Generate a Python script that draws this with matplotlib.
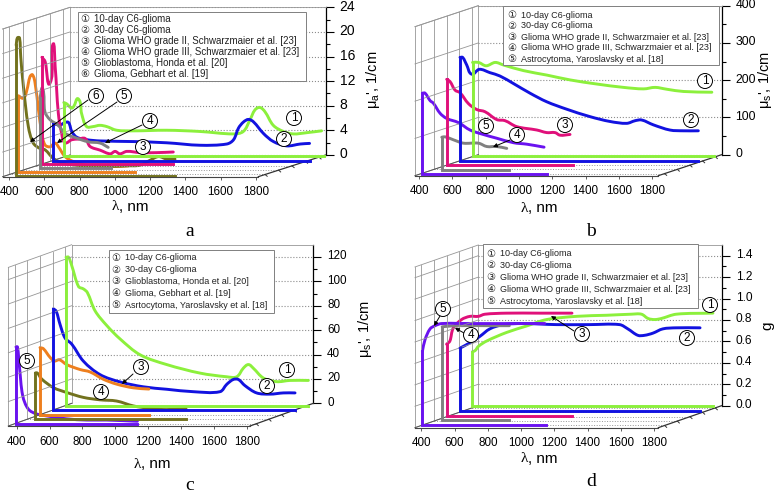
import matplotlib
matplotlib.use("Agg")
import matplotlib.pyplot as plt
import numpy as np
from matplotlib.patches import Circle, PathPatch, Rectangle
from matplotlib.path import Path
from matplotlib.transforms import Affine2D

plt.rcParams['font.family'] = ['Liberation Sans', 'DejaVu Sans']
plt.rcParams['mathtext.fontset'] = 'custom'
plt.rcParams['mathtext.rm'] = 'Liberation Sans'
plt.rcParams['mathtext.it'] = 'Liberation Sans'

W, H = 775, 492

GREEN = '#8cf03c'
BLUE = '#1212e0'
MAGENTA = '#e0107a'
GREY = '#808080'
ORANGE = '#ee7f1e'
OLIVE = '#72721e'
PURPLE = '#6a12f0'

X_TICKS = [400, 600, 800, 1000, 1200, 1400, 1600, 1800]

# panel a, absorption
A_GREEN_WL = [348, 364, 392, 405, 430, 449, 477, 515, 552, 591, 648, 742, 931, 1120, 1309, 1366, 1404, 1432, 1460, 1489, 1536, 1593, 1650, 1725, 1810]
A_GREEN = [8.7, 8.5, 7.8, 8.1, 9.3, 6.9, 4.8, 4.8, 5.0, 4.8, 4.2, 4.1, 4.2, 4.0, 3.6, 4.0, 5.9, 7.5, 7.9, 7.2, 5.0, 4.0, 3.6, 3.8, 4.1]
A_BLUE_WL = [369, 407, 435, 455, 474, 502, 559, 634, 823, 1012, 1201, 1352, 1391, 1419, 1448, 1476, 1504, 1561, 1617, 1693, 1769, 1822]
A_BLUE = [6.0, 5.8, 6.2, 6.2, 4.7, 3.8, 3.4, 3.2, 3.1, 2.9, 2.5, 2.7, 3.4, 5.3, 6.3, 6.7, 6.3, 4.4, 3.1, 2.4, 2.7, 2.8]
A_MAGENTA_WL = [369, 387, 415, 430, 444, 462, 481, 500, 538, 575, 614, 642, 699, 756, 784, 811, 850, 926, 1020, 1114]
A_MAGENTA = [17.4, 16.7, 13.2, 19.4, 15.9, 8.3, 5.0, 3.5, 4.0, 4.1, 4.2, 2.9, 2.3, 1.7, 2.1, 1.7, 2.1, 1.9, 1.9, 2.0]
A_GREY_WL = [417, 432, 445, 474, 520, 559, 625, 691, 758, 804]
A_GREY = [11.3, 12.9, 9.1, 7.8, 6.9, 5.6, 4.8, 4.2, 4.0, 3.3]
A_ORANGE_WL = [371, 400, 419, 437, 451, 466, 485, 504, 522, 551, 579, 598, 636, 683, 759, 834, 930, 995]
A_ORANGE = [12.4, 12.0, 13.3, 15.5, 15.8, 14.4, 10.1, 6.3, 4.4, 4.1, 4.7, 4.1, 2.5, 1.7, 1.1, 0.9, 0.9, 1.0]
A_OLIVE_WL = [423, 430, 442, 449, 464, 492, 520, 559, 587, 634, 691, 804, 937, 1050, 1125, 1182, 1230, 1277, 1324]
A_OLIVE = [21.2, 22.4, 22.4, 19.3, 14.5, 8.0, 5.3, 4.4, 4.2, 2.8, 2.0, 1.6, 1.5, 1.6, 1.7, 2.5, 3.1, 2.7, 2.7]
A_DEPTHS = [0.95, 0.74, 0.57, 0.415, 0.215, 0.046]
A_ENDS = [1825, 1822, 1114, 818, 1033, 1324]
A_YTICKS = [0, 4, 8, 12, 16, 20, 24]
A_YMINOR = [2, 6, 10, 14, 18, 22]
A_LEGEND = ["10-day C6-glioma", "30-day C6-glioma",
            "Glioma WHO grade II, Schwarzmaier et al. [23]",
            "Glioma WHO grade III, Schwarzmaier et al. [23]",
            "Glioblastoma, Honda et al. [20]",
            "Glioma, Gebhart et al. [19]"]

# panel b, reduced scattering
B_GREEN_WL = [364, 400, 446, 500, 550, 670, 810, 950, 1110, 1270, 1390, 1460, 1530, 1630, 1800]
B_GREEN = [251, 251, 242, 251, 244, 229, 217, 204, 193, 184, 180, 184, 179, 173, 171]
B_BLUE_WL = [380, 396, 420, 450, 496, 560, 620, 700, 800, 900, 1020, 1160, 1280, 1380, 1430, 1470, 1540, 1640, 1720, 1810]
B_BLUE = [278, 278, 258, 233, 246, 237, 228, 208, 182, 159, 139, 119, 106, 101, 108, 110, 97, 83, 81, 81]
B_MAGENTA_WL = [380, 400, 430, 460, 510, 560, 610, 680, 730, 800, 920, 980, 1030, 1060, 1120]
B_MAGENTA = [231, 225, 202, 195, 166, 150, 144, 123, 120, 104, 95, 88, 88, 81, 83]
B_GREY_WL = [434, 454, 504, 564, 654, 704, 764, 824]
B_GREY = [88, 89, 81, 72, 72, 63, 63, 58]
B_PURPLE_WL = [390, 406, 436, 456, 496, 536, 606, 676, 756, 836, 936, 1016, 1120]
B_PURPLE = [217, 217, 197, 190, 163, 149, 138, 118, 106, 96, 84, 80, 72]
B_DEPTHS = [0.94, 0.70, 0.49, 0.27, 0.08]
B_ENDS = [1810, 1810, 1136, 840, 1136]
B_YTICKS = [0, 100, 200, 300, 400]
B_YMINOR = [50, 150, 250, 350]
B_LEGEND = ["10-day C6-glioma", "30-day C6-glioma",
            "Glioma WHO grade II, Schwarzmaier et al. [23]",
            "Glioma WHO grade III, Schwarzmaier et al. [23]",
            "Astrocytoma, Yaroslavsky et al. [18]"]

# panel c, scattering
C_GREEN_WL = [361, 376, 396, 437, 467, 491, 538, 609, 690, 812, 974, 1177, 1339, 1400, 1440, 1471, 1501, 1562, 1643, 1724, 1836]
C_GREEN = [122, 122, 115, 98, 96, 93, 78, 66, 55, 42, 34, 27, 24, 24, 31, 34, 31, 23, 20, 21, 21]
C_BLUE_WL = [351, 368, 392, 422, 463, 534, 635, 757, 899, 1041, 1203, 1365, 1406, 1446, 1477, 1517, 1588, 1670, 1751, 1822]
C_BLUE = [83, 81, 70, 59, 54, 40, 29, 23, 19, 17, 15, 15, 21, 25, 25, 20, 14, 13, 14, 14]
C_ORANGE_WL = [349, 370, 410, 437, 467, 512, 593, 654, 735, 816, 917, 1012]
C_ORANGE = [55, 54, 47, 44, 45, 41, 37, 35, 29, 25, 22, 21]
C_OLIVE_WL = [400, 412, 439, 510, 591, 692, 793, 895, 996, 1098, 1199, 1317]
C_OLIVE = [38, 38, 33, 26, 22, 18, 16, 15, 11, 9, 8, 9]
C_PURPLE_WL = [357, 366, 378, 398, 432, 483, 564, 666, 787, 909, 1096]
C_PURPLE = [63, 63, 47, 23, 12, 8, 6, 4, 3, 3, 2]
C_DEPTHS = [0.88, 0.706, 0.5, 0.294, 0.1]
C_ENDS = [1836, 1822, 1012, 1317, 1096]
C_YTICKS = [0, 20, 40, 60, 80, 100, 120]
C_YMINOR = [10, 30, 50, 70, 90, 110]
C_LEGEND = ["10-day C6-glioma", "30-day C6-glioma",
            "Glioblastoma, Honda et al. [20]",
            "Glioma, Gebhart et al. [19]",
            "Asrtocytoma, Yaroslavsky et al. [18]"]

# panel d, anisotropy
D_GREEN_WL = [338, 354, 374, 424, 544, 664, 784, 964, 1144, 1294, 1354, 1394, 1434, 1474, 1564, 1784]
D_GREEN = [0.51, 0.52, 0.56, 0.61, 0.69, 0.75, 0.81, 0.84, 0.85, 0.86, 0.86, 0.82, 0.81, 0.82, 0.86, 0.87]
D_BLUE_WL = [350, 410, 470, 530, 610, 730, 930, 1130, 1310, 1360, 1420, 1460, 1510, 1570, 1650, 1794]
D_BLUE = [0.59, 0.64, 0.70, 0.77, 0.81, 0.82, 0.81, 0.81, 0.81, 0.77, 0.71, 0.71, 0.73, 0.77, 0.78, 0.78]
D_MAGENTA_WL = [350, 370, 390, 440, 490, 540, 580, 710, 910, 1104]
D_MAGENTA = [0.67, 0.70, 0.82, 0.90, 0.93, 0.93, 0.95, 0.96, 0.96, 0.96]
D_GREY_WL = [392, 480, 680, 796]
D_GREY = [0.87, 0.88, 0.88, 0.88]
D_PURPLE_WL = [366, 382, 412, 442, 482, 672, 872, 1102]
D_PURPLE = [0.69, 0.80, 0.90, 0.93, 0.95, 0.95, 0.95, 0.95]
D_DEPTHS = [0.97, 0.74, 0.53, 0.35, 0.106]
D_ENDS = [1784, 1794, 1104, 796, 1112]
D_YTICKS = [0.0, 0.2, 0.4, 0.6, 0.8, 1.0, 1.2, 1.4]
D_YMINOR = [0.1, 0.3, 0.5, 0.7, 0.9, 1.1, 1.3]
D_LEGEND = ["10-day C6-glioma", "30-day C6-glioma",
            "Glioma WHO grade II, Schwarzmaier et al. [23]",
            "Glioma WHO grade III, Schwarzmaier et al. [23]",
            "Astrocytoma, Yaroslavsky et al. [18]"]
CIRCLED = ["①", "②", "③", "④", "⑤", "⑥"]

fig = plt.figure(figsize=(W / 100, H / 100), dpi=100)
WALL = '#969696'
FLOOR_DEPTHS = [0.1, 0.3, 0.5, 0.7, 0.9]
LW = 2.1


def curve_path(x, y, sx, sy):
    # bezier through the read points, tangents normalised in pixel space
    px = np.column_stack([np.asarray(x) * sx, np.asarray(y) * sy])
    seg = np.hypot(*np.diff(px, axis=0).T)
    tang = np.zeros_like(px)
    tang[1:-1] = px[2:] - px[:-2]
    tang[0] = px[1] - px[0]
    tang[-1] = px[-1] - px[-2]
    tang = tang / np.maximum(np.hypot(*tang.T), 1e-9)[:, None]
    verts = [px[0]]
    codes = [Path.MOVETO]
    for i in range(len(px) - 1):
        verts += [px[i] + tang[i] * seg[i] / 3, px[i + 1] - tang[i + 1] * seg[i] / 3, px[i + 1]]
        codes += [Path.CURVE4] * 3
    return Path(np.array(verts) / [sx, sy], codes)


def draw_panel(left, right, base, height, shift, xlim, ylim, yticks, yminor, yfmt, yfont, series):
    dx, dy = shift
    # back wall carries the value axis, front plane carries the wavelength axis
    back = fig.add_axes([(left + dx) / W, 1 - (base - dy) / H, (right - left) / W, height / H])
    back.patch.set_visible(False)
    back.set_xlim(xlim)
    back.set_ylim(ylim)
    back.set_xticks([])
    back.yaxis.tick_right()
    back.set_yticks(yticks)
    back.set_yticklabels([yfmt % t for t in yticks], fontsize=yfont)
    back.set_yticks(yminor, minor=True)
    back.tick_params(axis='y', which='major', length=6, width=0.8, pad=4)
    back.tick_params(axis='y', which='minor', length=3, width=0.8)
    for lab in back.get_yticklabels():
        lab.set_transform(lab.get_transform() + Affine2D().translate(0, 2))
    back.grid(axis='y', color='#8c8c8c', linestyle=':', linewidth=0.8)
    back.spines['bottom'].set_visible(False)
    back.spines['right'].set_linewidth(0.9)
    back.spines['left'].set_color(WALL)
    back.spines['top'].set_color(WALL)
    for sp in ['left', 'top']:
        back.spines[sp].set_linewidth(0.6)

    ax = fig.add_axes([left / W, 1 - base / H, (right - left) / W, height / H])
    ax.patch.set_visible(False)
    ax.set_xlim(xlim)
    ax.set_ylim(ylim)
    ax.set_xticks(X_TICKS)
    ax.set_xticklabels([str(t) for t in X_TICKS], fontsize=8.4)
    ax.set_yticks([])
    ax.tick_params(axis='x', length=2, width=0.6, pad=5, color='#444444')
    for sp in ['top', 'right', 'left']:
        ax.spines[sp].set_visible(False)
    ax.spines['bottom'].set_color('#444444')
    ax.spines['bottom'].set_linewidth(0.8)

    # depth offset expressed in the data units of this panel
    sx = (right - left) / (xlim[1] - xlim[0])
    sy = height / (ylim[1] - ylim[0])
    ddx = dx / sx
    ddy = dy / sy

    def project(wl, val, d):
        return np.asarray(wl, dtype=float) + d * ddx, np.asarray(val, dtype=float) + d * ddy

    def line(wl, val, d, **kw):
        x, y = project(wl, val, d)
        ax.plot(x, y, clip_on=False, **kw)

    # left wall
    wall_kw = dict(color=WALL, lw=0.6)
    for t in yticks + [ylim[1]]:
        ax.plot([xlim[0], xlim[0] + ddx], [t, t + ddy], clip_on=False, **wall_kw)
    for d in FLOOR_DEPTHS:
        line([xlim[0], xlim[0]], [0, ylim[1]], d, **wall_kw)
        line([xlim[0], xlim[1]], [0, 0], d, color=WALL, lw=0.7, ls=':')
    line([xlim[0], xlim[0]], [0, ylim[1]], 0, **wall_kw)
    ax.plot([xlim[0], xlim[0] + ddx], [0, ddy], clip_on=False, color='#555555', lw=0.7)
    # right edge of the floor with its ticks
    ax.plot([xlim[1], xlim[1] + ddx], [0, ddy], clip_on=False, color='#333333', lw=0.9)
    for d in FLOOR_DEPTHS:
        x, y = project([xlim[1], xlim[1] + 12], [0, 0], d)
        ax.plot(x, y - 0.012 * (ylim[1] - ylim[0]) * np.array([0, 1]), clip_on=False, color='#333333', lw=0.7)

    for wl, val, d, end, color in series:
        line([wl[0], wl[0], end], [val[0], 0, 0], d, color=color, lw=LW, solid_joinstyle='miter')
        x, y = project(wl, val, d)
        ax.add_patch(PathPatch(curve_path(x, y, sx, sy), fill=False, ec=color, lw=LW,
                               capstyle='round', joinstyle='round', clip_on=False))


draw_panel(8 / 3, 775 / 3, 530 / 3, 443 / 3, (202 / 3, 65 / 3), (364, 1814), (0, 24),
           A_YTICKS, A_YMINOR, '%d', 10,
           [(A_GREEN_WL, A_GREEN, A_DEPTHS[0], A_ENDS[0], GREEN),
            (A_BLUE_WL, A_BLUE, A_DEPTHS[1], A_ENDS[1], BLUE),
            (A_MAGENTA_WL, A_MAGENTA, A_DEPTHS[2], A_ENDS[2], MAGENTA),
            (A_GREY_WL, A_GREY, A_DEPTHS[3], A_ENDS[3], GREY),
            (A_ORANGE_WL, A_ORANGE, A_DEPTHS[4], A_ENDS[4], ORANGE),
            (A_OLIVE_WL, A_OLIVE, A_DEPTHS[5], A_ENDS[5], OLIVE)])
draw_panel(415, 390 + 805 / 3, 527 / 3, 447 / 3, (190 / 3, 63 / 3), (376, 1836), (0, 400),
           B_YTICKS, B_YMINOR, '%d', 8.8,
           [(B_GREEN_WL, B_GREEN, B_DEPTHS[0], B_ENDS[0], GREEN),
            (B_BLUE_WL, B_BLUE, B_DEPTHS[1], B_ENDS[1], BLUE),
            (B_MAGENTA_WL, B_MAGENTA, B_DEPTHS[2], B_ENDS[2], MAGENTA),
            (B_GREY_WL, B_GREY, B_DEPTHS[3], B_ENDS[3], GREY),
            (B_PURPLE_WL, B_PURPLE, B_DEPTHS[4], B_ENDS[4], PURPLE)])
draw_panel(25 / 3, 250, 426, 158.6, (190 / 3, 68 / 3), (349, 1820), (0, 130),
           C_YTICKS, C_YMINOR, '%d', 8.4,
           [(C_GREEN_WL, C_GREEN, C_DEPTHS[0], C_ENDS[0], GREEN),
            (C_BLUE_WL, C_BLUE, C_DEPTHS[1], C_ENDS[1], BLUE),
            (C_ORANGE_WL, C_ORANGE, C_DEPTHS[2], C_ENDS[2], ORANGE),
            (C_OLIVE_WL, C_OLIVE, C_DEPTHS[3], C_ENDS[3], OLIVE),
            (C_PURPLE_WL, C_PURPLE, C_DEPTHS[4], C_ENDS[4], PURPLE)])
draw_panel(415, 390 + 805 / 3, 246 + 545 / 3, 160.7, (190 / 3, 22), (362, 1825), (0, 1.5),
           D_YTICKS, D_YMINOR, '%.1f', 8.6,
           [(D_GREEN_WL, D_GREEN, D_DEPTHS[0], D_ENDS[0], GREEN),
            (D_BLUE_WL, D_BLUE, D_DEPTHS[1], D_ENDS[1], BLUE),
            (D_MAGENTA_WL, D_MAGENTA, D_DEPTHS[2], D_ENDS[2], MAGENTA),
            (D_GREY_WL, D_GREY, D_DEPTHS[3], D_ENDS[3], GREY),
            (D_PURPLE_WL, D_PURPLE, D_DEPTHS[4], D_ENDS[4], PURPLE)])

# everything below sits on an overlay in image pixels
over = fig.add_axes([0, 0, 1, 1])
over.set_xlim(0, W)
over.set_ylim(H, 0)
over.axis('off')


def legend(box, text_x, rows, labels, marks, size):
    over.add_patch(Rectangle((box[0], box[1]), box[2] - box[0], box[3] - box[1],
                             fc='white', ec='#808080', lw=0.7))
    for y, lab, mark in zip(rows, labels, marks):
        over.text(text_x, y, mark, fontsize=7.2, va='center', ha='left', color='#222222', family='DejaVu Sans')
        over.text(text_x + 14, y, lab, fontsize=size, va='center', ha='left', color='#222222')


def callout(x, y, s):
    over.add_patch(Circle((x, y), 7.5, fc='white', ec='black', lw=0.7, zorder=5))
    over.text(x, y, s, fontsize=8.5, ha='center', va='center', zorder=6)


def arrow(start, end):
    over.annotate('', xy=end, xytext=start,
                  arrowprops=dict(arrowstyle='-|>', lw=0.7, color='black', mutation_scale=6,
                                  shrinkA=0, shrinkB=0), zorder=4)


legend((78, 12, 306, 81), 80, [18.5, 30, 41, 52, 63, 74], A_LEGEND, CIRCLED, 7)
legend((503, 6, 719, 65), 507, [15, 26, 37, 48, 59], B_LEGEND, CIRCLED, 6.5)
legend((109, 250, 274, 313), 111, [258, 270, 281.5, 293, 305], C_LEGEND, CIRCLED, 6.5)
legend((483, 244, 698, 308), 486, [254, 265.5, 277, 289.5, 301], D_LEGEND, CIRCLED, 6.5)

for x, y, s in [(294, 118, '1'), (284, 139, '2'), (143, 147, '3'), (150, 121, '4'), (124, 96, '5'), (96, 96, '6'),
                (705, 81, '1'), (691, 120, '2'), (565, 125, '3'), (517, 135, '4'), (486, 126, '5'),
                (287, 370, '1'), (267, 386, '2'), (141, 367, '3'), (101, 392, '4'), (27, 361, '5'),
                (710, 305, '1'), (687, 338, '2'), (582, 334, '3'), (471, 335, '4'), (443, 309, '5')]:
    callout(x, y, s)

for start, end in [((142, 125), (105, 143)), ((117, 102), (57, 143)), ((88, 100), (30, 142)),
                   ((510, 140), (493, 147)),
                   ((133, 374), (122, 384)),
                   ((574, 331), (551, 316)), ((464, 333), (455, 328)), ((440, 316), (434, 326))]:
    arrow(start, end)

SERIF = 'Liberation Serif'
for x, y in [(132, 207), (541, 208), (154, 464), (541, 459)]:
    over.text(x - 13, y, "λ", fontsize=11, family=SERIF, ha='right', va='center')
    over.text(x - 13, y, ", nm", fontsize=11, ha='left', va='center')
for x, y, s in [(190, 231, 'a'), (591, 232, 'b'), (190, 485, 'c'), (591, 481, 'd')]:
    over.text(x, y, s, fontsize=14, family=SERIF, ha='center', va='center')

over.text(373, 80, r"$\mathregular{\mu_{a}}$', 1/cm", rotation=90, fontsize=10.5, ha='center', va='center')
over.text(765, 80, r"$\mathregular{\mu_{s}}$', 1/cm", rotation=90, fontsize=10.5, ha='center', va='center')
over.text(365, 329, r"$\mathregular{\mu_{s}}$', 1/cm", rotation=90, fontsize=10.5, ha='center', va='center')
over.text(767, 326, "g", rotation=90, fontsize=11, ha='center', va='center')

fig.savefig("out.png", dpi=100)
